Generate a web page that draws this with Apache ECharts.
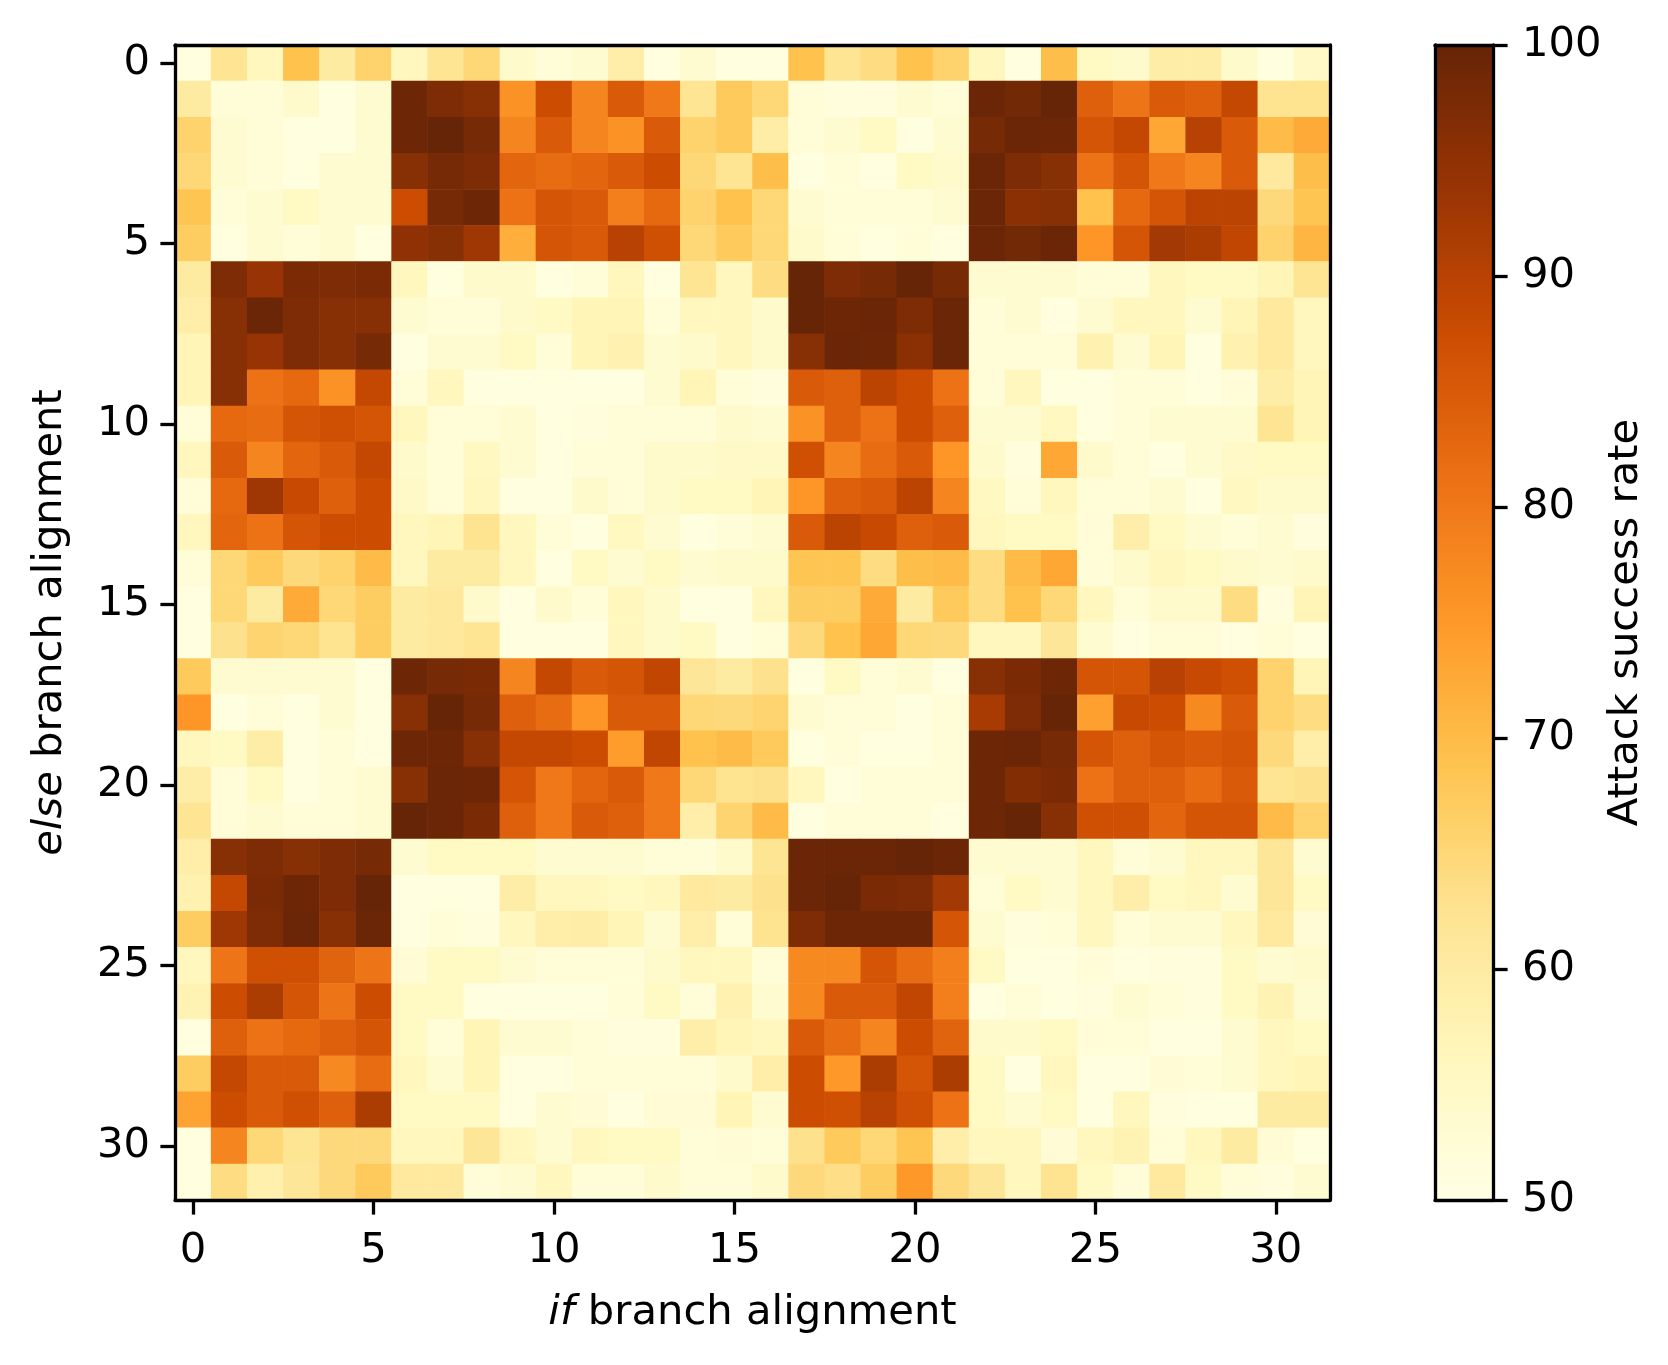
<!DOCTYPE html>
<html>
<head>
<meta charset="utf-8">
<title>Attack success rate heatmap</title>
<script src="https://cdn.jsdelivr.net/npm/echarts@6/dist/echarts.min.js"></script>
<style>
  html, body { margin: 0; padding: 0; background: #fff; }
  #main { width: 1668px; height: 1365px; }
</style>
</head>
<body>
<div id="main"></div>
<script>
// branch alignment categories (same for both axes)
const ifAlign = Array.from({ length: 32 }, (_, i) => String(i));
const elseAlign = Array.from({ length: 32 }, (_, i) => String(i));
// colorbar ticks
const cbarTicks = [50, 60, 70, 80, 90, 100];
// YlOrBr colour ramp
const ylOrBr = ['#ffffe5', '#fff7bc', '#fee391', '#fec44f', '#fe9929', '#ec7014', '#cc4c02', '#993404', '#662506'];

// attack success rate, one row per else-branch alignment (0..31), columns = if-branch alignment
const asr = [
  [51, 62, 56, 69, 60, 66, 56, 62, 65, 54, 52, 53, 59, 51, 53, 51, 51, 69, 62, 64, 69, 66, 56, 51, 69.5, 55, 54, 59.5, 59.5, 54, 51, 54.5],
  [60, 52, 52, 54, 51, 53, 99, 97, 96, 76, 87.5, 78, 85, 80, 62, 67.5, 65, 52, 51.5, 51.5, 53, 52, 99.5, 98.5, 100, 84, 80.5, 85, 84, 88.5, 62.5, 62.5],
  [66, 53, 52, 51, 51, 53, 99, 100, 98, 78, 85, 78, 76, 85, 66, 67.5, 59.5, 52, 53, 55, 51, 53, 98, 99.5, 99, 86, 88.5, 73, 90, 85, 70, 72.5],
  [65, 53, 52, 51, 53, 53, 96, 98, 97, 83, 82, 83, 85, 87.5, 65, 62, 69.5, 51, 52, 51, 55, 54, 99.5, 97, 96, 81, 86, 80, 78, 85, 60.5, 69.5],
  [68.5, 52, 53, 55, 53, 53, 87.5, 98, 99, 81, 86, 85, 79, 82.5, 66, 69, 65, 53, 52, 52, 52, 53, 99.5, 95.5, 96, 69, 82.5, 86, 89.5, 89.5, 64.5, 68.5],
  [67, 51, 53, 52, 53, 51, 95, 96, 93, 72, 86, 85, 90, 87, 65, 67.5, 65, 54, 52, 51, 52, 51, 99.5, 98.5, 99.5, 75.5, 86, 92.5, 91.5, 89, 66, 71],
  [60, 97, 94, 97.5, 97, 97.5, 56, 51, 54, 54, 51, 52, 56, 51, 62, 56, 64, 100, 97, 98, 100, 98, 53, 53, 53, 52, 52, 56, 55, 55, 57, 62],
  [59, 96, 99.5, 97, 96, 96, 53, 52, 52, 54, 55, 57, 57, 52, 56, 56, 54, 100, 99, 99.5, 97, 99.5, 52, 53, 51, 53, 56, 56, 53, 57, 60.5, 56],
  [57, 96, 94, 97, 96, 98, 51, 53, 53, 55, 52, 57, 58, 53, 54, 56, 54, 96, 99.5, 99, 95.5, 99.5, 52, 52, 52, 58, 53, 57, 51, 58, 60.5, 56],
  [57, 96, 81, 82.5, 76, 88.5, 52, 56, 51, 51, 51, 51, 51, 53, 57, 52, 51.5, 85, 84, 89.5, 87.5, 81, 52, 56, 51, 51, 52, 52, 51, 52, 59.5, 57],
  [52, 82.5, 82, 86, 87, 86, 56, 52, 52, 53, 51, 51.5, 52, 52, 52, 54, 53, 76, 84, 81, 87.5, 84, 53, 53, 55.5, 51, 52, 53, 53, 53, 62, 57],
  [56, 85, 78, 83, 85, 88.5, 54, 52, 55.5, 53, 51, 52, 52, 54, 54, 54.5, 54.5, 87, 78, 82, 85, 75.5, 54, 51.5, 73, 54, 52, 51, 53, 54.5, 55, 55],
  [52, 82.5, 93, 88, 84, 87.5, 54.5, 52, 56, 51, 51, 54, 52, 54, 55, 55, 57, 75.5, 84, 85, 89.5, 78, 55.5, 52, 56, 52, 52, 53, 51, 55.5, 54, 54],
  [56, 83, 81, 86, 87.5, 87.5, 56, 57, 62.5, 56, 52, 51, 55.5, 53, 51, 52, 53, 85, 89.5, 88, 84, 85, 56, 55, 55, 52, 59, 55, 53, 52, 53, 51.5],
  [52, 65, 67.5, 64.5, 66, 70, 56, 60, 60, 56, 51, 55, 53, 55, 53, 54, 54, 68.5, 68.5, 64, 69.5, 70, 64, 70, 73, 52, 54, 56, 55, 54, 53, 54],
  [51, 65, 60, 72.5, 65, 67, 60, 61, 54, 51, 54, 52, 56, 54, 51, 51, 56, 67, 67, 72.5, 60, 67.5, 64, 69, 65, 56, 52, 54, 54, 64, 51.5, 57],
  [51, 63, 65.5, 65, 62.5, 67, 60, 61, 62, 51, 51, 51, 56, 54, 55, 51, 52, 64.5, 69, 73, 65, 64.5, 56, 56, 61.5, 53, 51, 52, 52, 51, 52, 51],
  [67.5, 53, 53, 53, 53, 51, 99, 98, 97.5, 78, 88.5, 85, 86, 89, 61.5, 60, 63, 51, 55, 52, 53, 51, 96, 97.5, 99, 86, 86, 90, 88, 87, 66, 57],
  [75.5, 51, 52, 51, 53, 51, 96, 100, 98, 84, 82, 75.5, 85, 85, 65, 64.5, 65.5, 53, 52, 52, 51, 52, 92, 97, 100, 74, 88, 87.5, 77.5, 85, 66, 64],
  [56, 55, 59.5, 51, 52, 51, 99, 99, 96, 88.5, 88.5, 87.5, 74.5, 89, 69, 70, 67.5, 51, 52, 51, 51, 52, 99, 99.5, 98, 86, 84, 86, 85, 86, 64.5, 59],
  [59.5, 52, 55, 51, 52, 53, 96, 99.5, 99, 86, 80, 83, 85, 80, 65, 62.5, 63, 56, 51, 52, 52, 52, 99, 96.5, 97.5, 81, 84, 84, 82, 85, 62, 63],
  [62, 52, 53, 52, 52, 53, 100, 99.5, 97.5, 84, 80, 85, 84, 80, 59, 65.5, 70, 51, 52, 52, 52, 51, 99, 100, 96, 87, 87, 83, 86, 86, 70, 66],
  [59, 96, 97, 96, 97, 98, 53, 55, 55, 55, 53, 53, 53, 52, 52, 54, 62, 99.5, 99.5, 99.5, 100, 99.5, 53, 53, 53, 56, 52, 53, 56, 56, 61.5, 53],
  [58, 88.5, 97.5, 99, 97, 100, 51, 51, 51, 59.5, 56, 56, 55, 56, 60.5, 60, 63, 99.5, 100, 97.5, 97, 92.5, 52, 55, 53, 56, 59, 55, 56, 53, 61.5, 55],
  [67, 93, 97, 99.5, 96, 99.5, 51, 52, 51.5, 56, 59, 59.5, 57, 53, 59, 52, 62.5, 97, 99, 99, 99, 86, 53, 51.5, 52, 56, 52, 53, 53, 56, 60.5, 52.5],
  [56, 80.5, 87, 87, 83.5, 80.5, 52.5, 55, 55, 53, 52, 52, 52, 54, 56, 56, 52, 77.5, 77.5, 86, 82, 79, 55, 51, 51, 52, 51, 51.5, 51.5, 55, 53, 54],
  [57.5, 87.5, 91.5, 86, 80.5, 87.5, 55, 55, 51, 51, 51, 51, 52, 55, 52, 58, 53, 77.5, 85, 85, 89, 79, 51, 52, 51, 51.5, 53, 52, 51.5, 55, 57.5, 53],
  [51, 84, 81, 82.5, 84, 86, 55, 52, 57, 53, 53, 52, 51.5, 51.5, 59, 57, 56, 85, 82, 78, 87.5, 83.5, 54, 54, 55, 52, 52, 51, 51, 53, 56, 55],
  [67, 88.5, 85, 85, 77.5, 82, 56, 53, 57, 51, 51, 52, 52, 52, 52, 54, 59, 87.5, 75, 91.5, 86, 91.5, 55, 51, 56, 51, 51, 52.5, 52, 53, 56, 57],
  [73.5, 87.5, 85, 87, 84, 91.5, 55, 55, 55, 51, 53, 52.5, 51, 52.5, 52.5, 57, 53, 87.5, 87, 90, 87, 81, 55, 53, 55, 51, 56, 51.5, 51, 51, 60, 60],
  [51, 78, 65, 62, 64.5, 64.5, 56, 56, 61.5, 56, 53, 56, 55, 55, 52, 52.5, 52, 63, 67.5, 65, 68.5, 59, 56, 56, 52.5, 56, 57.5, 52, 56, 60, 52.5, 51],
  [51, 64, 58.5, 61.5, 64.5, 67.5, 60.5, 60.5, 52, 53, 56, 52, 52, 54, 52, 52, 54, 64.5, 63.5, 67, 75, 64.5, 61.5, 56, 62.5, 55, 52, 60.5, 55, 52, 51.5, 53]
];

const FONT = 'DejaVu Sans';
const FS = 41.7;
const LW = 3.3;

let heatData = [];
asr.forEach((row, r) => {
  row.forEach((v, c) => {
    heatData.push([c, r, v]);
  });
});

// 只画一条边框线的坐标轴
function frameAxis(gridIndex, position, type, extra) {
  return Object.assign({
    gridIndex: gridIndex,
    type: type,
    position: position,
    z: 10,
    axisLine: { show: true, onZero: false, lineStyle: { color: '#000', width: LW } },
    axisTick: { show: false },
    axisLabel: { show: false },
    splitLine: { show: false }
  }, extra || {});
}

let chart = echarts.init(document.getElementById('main'));
let option = {
  animation: false,
  backgroundColor: '#fff',
  grid: [
    { left: 175, top: 45, width: 1155, height: 1155, outerBoundsMode: 'none', containLabel: false },
    { left: 1435, top: 45, width: 58, height: 1155, outerBoundsMode: 'none', containLabel: false }
  ],
  xAxis: [
    {
      gridIndex: 0,
      type: 'category',
      data: ifAlign,
      position: 'bottom',
      z: 10,
      axisLine: { show: true, onZero: false, lineStyle: { color: '#000', width: LW } },
      axisTick: { show: true, alignWithLabel: true, interval: 4, length: 14.6, lineStyle: { color: '#000', width: LW } },
      axisLabel: { interval: 4, margin: 30, color: '#000', fontFamily: FONT, fontSize: FS },
      splitLine: { show: false },
      name: '{it|if} branch alignment',
      nameLocation: 'middle',
      nameGap: 92,
      nameTextStyle: {
        color: '#000', fontFamily: FONT, fontSize: FS,
        rich: { it: { fontStyle: 'italic', fontFamily: FONT, fontSize: FS, color: '#000' } }
      }
    },
    frameAxis(0, 'top', 'category', { data: ifAlign }),
    frameAxis(1, 'bottom', 'value', { min: 0, max: 1 }),
    frameAxis(1, 'top', 'value', { min: 0, max: 1 })
  ],
  yAxis: [
    {
      gridIndex: 0,
      type: 'category',
      data: elseAlign,
      inverse: true,
      position: 'left',
      z: 10,
      axisLine: { show: true, onZero: false, lineStyle: { color: '#000', width: LW } },
      axisTick: { show: true, alignWithLabel: true, interval: 4, length: 14.6, lineStyle: { color: '#000', width: LW } },
      axisLabel: { interval: 4, margin: 25, padding: [8, 0, 0, 0], color: '#000', fontFamily: FONT, fontSize: FS },
      splitLine: { show: false },
      name: '{it|else} branch alignment',
      nameLocation: 'middle',
      nameRotate: 90,
      nameGap: 104,
      nameTextStyle: {
        color: '#000', fontFamily: FONT, fontSize: FS,
        rich: { it: { fontStyle: 'italic', fontFamily: FONT, fontSize: FS, color: '#000' } }
      }
    },
    frameAxis(0, 'right', 'category', { data: elseAlign, inverse: true }),
    {
      // colorbar 刻度
      gridIndex: 1,
      type: 'value',
      min: cbarTicks[0],
      max: cbarTicks[cbarTicks.length - 1],
      interval: 10,
      position: 'right',
      z: 10,
      axisLine: { show: true, onZero: false, lineStyle: { color: '#000', width: LW } },
      axisTick: { show: true, length: 14.6, lineStyle: { color: '#000', width: LW } },
      axisLabel: { margin: 29, padding: [8, 0, 0, 0], color: '#000', fontFamily: FONT, fontSize: FS },
      splitLine: { show: false },
      name: 'Attack success rate',
      nameLocation: 'middle',
      nameRotate: 90,
      nameGap: 95,
      nameTextStyle: { color: '#000', fontFamily: FONT, fontSize: FS }
    },
    frameAxis(1, 'left', 'value', { min: 50, max: 100 })
  ],
  visualMap: {
    type: 'continuous',
    min: 50,
    max: 100,
    dimension: 2,
    seriesIndex: 0,
    calculable: false,
    realtime: false,
    hoverLink: false,
    orient: 'vertical',
    left: 1435,
    top: 45,
    padding: 0,
    itemWidth: 58,
    itemHeight: 1155,
    text: null,
    showLabel: false,
    inRange: { color: ylOrBr }
  },
  series: [
    {
      type: 'heatmap',
      xAxisIndex: 0,
      yAxisIndex: 0,
      data: heatData,
      progressive: 0,
      itemStyle: { borderWidth: 0 },
      emphasis: { disabled: true }
    }
  ]
};
chart.setOption(option);
</script>
</body>
</html>
